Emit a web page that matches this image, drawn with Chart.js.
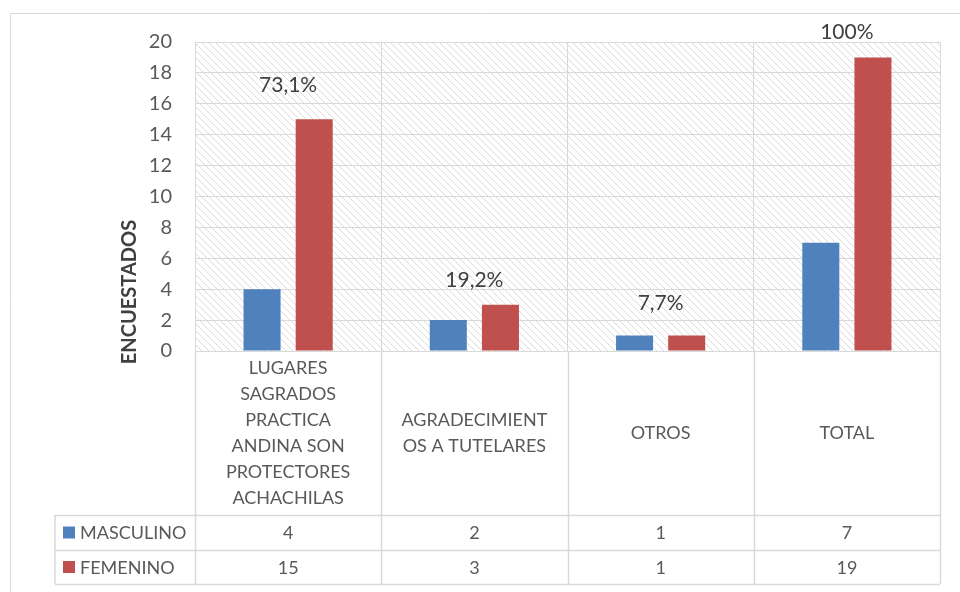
<!DOCTYPE html>
<html>
<head>
<meta charset="utf-8">
<script src="https://cdn.jsdelivr.net/npm/chart.js@4.4.1/dist/chart.umd.min.js"></script>
<style>
	html, body { margin: 0; padding: 0; background: #fff; }
	#wrap { width: 960px; height: 592px; }
</style>
</head>
<body>
<div id="wrap"><canvas id="chart" width="960" height="592"></canvas></div>
<script>
const categories = [
	["LUGARES", "SAGRADOS", "PRACTICA", "ANDINA SON", "PROTECTORES", "ACHACHILAS"],
	["AGRADECIMIENT", "OS A TUTELARES"],
	["OTROS"],
	["TOTAL"]
];
const masculino = [4, 2, 1, 7];
const femenino = [15, 3, 1, 19];
const percentLabels = ["73,1%", "19,2%", "7,7%", "100%"];
// height (in axis units) where each percentage sits
const percentHeights = [17.2, 4.6, 3.1, 20.6];
const yTicks = { min: 0, max: 20, step: 2 };

const FONT = "Lato, 'Open Sans', sans-serif";
const GRID = "#d9d9d9";
const TEXT = "#595959";
const BLUE = "#4f81bd";
const RED = "#c0504d";

// hatched plot background + outer frame
const backgroundPlugin = {
	id: "background",
	beforeDraw(chart) {
		const { ctx, chartArea: a } = chart;
		ctx.save();
		// outer frame (left and top edges visible)
		ctx.strokeStyle = GRID;
		ctx.lineWidth = 1;
		ctx.beginPath();
		ctx.moveTo(10.5, chart.height);
		ctx.lineTo(10.5, 13.5);
		ctx.lineTo(chart.width, 13.5);
		ctx.stroke();

		ctx.beginPath();
		ctx.rect(a.left, a.top, a.right - a.left, a.bottom - a.top);
		ctx.clip();
		ctx.strokeStyle = "#dadada";
		ctx.lineWidth = 1;
		const h = a.bottom - a.top;
		ctx.beginPath();
		for (let x = a.left - h; x < a.right; x += 7) {
			ctx.moveTo(x, a.top);
			ctx.lineTo(x + h, a.bottom);
		}
		ctx.stroke();
		ctx.restore();
	}
};

// percentage labels, axis title and data table under the plot
const tablePlugin = {
	id: "dataTable",
	afterDraw(chart) {
		const { ctx, chartArea: a } = chart;
		const xs = chart.scales.x;
		const ys = chart.scales.y;
		const n = categories.length;
		const step = (a.right - a.left) / n;
		const labelBottom = a.bottom + 164;
		const row1 = labelBottom + 35;
		const row2 = row1 + 34;
		const legendLeft = 55;

		ctx.save();

		// percentages
		ctx.fillStyle = "#404040";
		ctx.font = "21px " + FONT;
		ctx.textAlign = "center";
		ctx.textBaseline = "middle";
		percentLabels.forEach((txt, i) => {
			ctx.fillText(txt, xs.getPixelForValue(i), ys.getPixelForValue(percentHeights[i]));
		});

		// table lines
		ctx.strokeStyle = GRID;
		ctx.lineWidth = 1.5;
		ctx.beginPath();
		for (let i = 0; i <= n; i++) {
			const x = Math.round(a.left + step * i) + 0.5;
			ctx.moveTo(x, a.bottom);
			ctx.lineTo(x, row2);
		}
		ctx.moveTo(legendLeft, labelBottom);
		ctx.lineTo(legendLeft, row2);
		[labelBottom, row1, row2].forEach((y) => {
			ctx.moveTo(legendLeft, y + 0.5);
			ctx.lineTo(a.right, y + 0.5);
		});
		ctx.stroke();

		// category labels
		ctx.fillStyle = TEXT;
		ctx.font = "18px " + FONT;
		const labelMid = (a.bottom + labelBottom) / 2;
		const lh = 26;
		categories.forEach((lines, i) => {
			const cx = xs.getPixelForValue(i);
			const y0 = labelMid - (lines.length - 1) * lh / 2;
			lines.forEach((line, j) => ctx.fillText(line, cx, y0 + j * lh));
		});

		// rows
		const rows = [
			{ name: "MASCULINO", color: BLUE, data: masculino, y: (labelBottom + row1) / 2 },
			{ name: "FEMENINO", color: RED, data: femenino, y: (row1 + row2) / 2 }
		];
		rows.forEach((r) => {
			ctx.fillStyle = r.color;
			ctx.fillRect(63, r.y - 6, 12, 12);
			ctx.fillStyle = TEXT;
			ctx.textAlign = "left";
			ctx.fillText(r.name, 80, r.y + 1);
			ctx.textAlign = "center";
			r.data.forEach((v, i) => ctx.fillText(String(v), xs.getPixelForValue(i), r.y + 1));
		});

		// axis title
		ctx.translate(130, 292);
		ctx.rotate(-Math.PI / 2);
		ctx.fillStyle = "#404040";
		ctx.font = "bold 20px " + FONT;
		ctx.fillText("ENCUESTADOS", 0, 0);

		ctx.restore();
	}
};

new Chart(document.getElementById("chart"), {
	type: "bar",
	data: {
		labels: categories.map((c) => c.join(" ")),
		datasets: [
			{ label: "MASCULINO", data: masculino, backgroundColor: BLUE },
			{ label: "FEMENINO", data: femenino, backgroundColor: RED }
		]
	},
	options: {
		responsive: false,
		animation: false,
		categoryPercentage: 0.56,
		barPercentage: 0.71,
		layout: { padding: { top: 42, right: 20, bottom: 241, left: 0 } },
		plugins: {
			legend: { display: false },
			tooltip: { enabled: false }
		},
		scales: {
			x: {
				ticks: { display: false },
				grid: { color: GRID, offset: true, drawTicks: false },
				border: { color: GRID },
				afterFit(s) { s.height = 0; }
			},
			y: {
				min: yTicks.min,
				max: yTicks.max,
				ticks: {
					stepSize: yTicks.step,
					padding: 23,
					color: TEXT,
					font: { family: FONT, size: 20 }
				},
				grid: { color: GRID, drawTicks: false },
				border: { color: GRID },
				afterFit(s) { s.width = 195; }
			}
		}
	},
	plugins: [backgroundPlugin, tablePlugin]
});
</script>
</body>
</html>
